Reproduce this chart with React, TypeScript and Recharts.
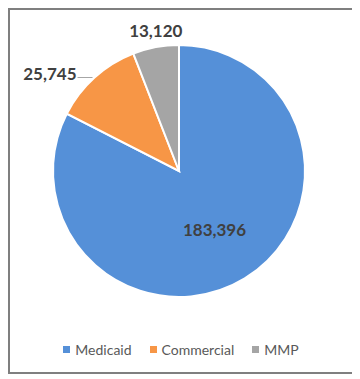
import { PieChart, Pie, Cell, Legend } from 'recharts';

const categories = ['Medicaid', 'Commercial', 'MMP'];
const values = [183396, 25745, 13120];
const colors = ['#5590D8', '#F79646', '#A5A5A5'];

const data = categories.map((name, i) => ({ name, value: values[i] }));

const RAD = Math.PI / 180;

interface LabelProps {
  cx: number;
  cy: number;
  midAngle: number;
  outerRadius: number;
  index: number;
  value: number;
}

function SliceLabel({ cx, cy, midAngle, outerRadius, index, value }: LabelProps) {
  const text = value.toLocaleString('en-US');
  const style = { fontFamily: 'Lato', fontWeight: 700, fontSize: 17, fill: '#404040' };
  const cos = Math.cos(-midAngle * RAD);
  const sin = Math.sin(-midAngle * RAD);

  if (index === 0) {
    const r = outerRadius * 0.54;
    return (
      <text x={cx + r * cos} y={cy + r * sin} textAnchor="middle" dominantBaseline="central" style={style}>
        {text}
      </text>
    );
  }

  const ex = cx + outerRadius * cos;
  const ey = cy + outerRadius * sin;

  if (index === 1) {
    return (
      <g>
        <line x1={ex - 2} y1={ey} x2={ex - 17} y2={ey} stroke="#A6A6A6" strokeWidth={1} />
        <text x={ex - 18} y={ey - 4} textAnchor="end" dominantBaseline="central" style={style}>
          {text}
        </text>
      </g>
    );
  }

  return (
    <text x={ex} y={ey - 17} textAnchor="middle" dominantBaseline="central" style={style}>
      {text}
    </text>
  );
}

function LegendContent() {
  return (
    <div style={{ display: 'flex', justifyContent: 'center', fontFamily: 'Lato', fontSize: 14, color: '#595959' }}>
      {categories.map((name, i) => (
        <span key={name} style={{ display: 'inline-flex', alignItems: 'center', margin: '0 9px' }}>
          <span style={{ width: 7, height: 7, background: colors[i], marginRight: 5, display: 'inline-block' }} />
          {name}
        </span>
      ))}
    </div>
  );
}

export default function App() {
  return (
    <div
      style={{
        width: 346,
        height: 366,
        border: '2px solid #7F7F7F',
        boxSizing: 'border-box',
        background: '#fff',
      }}
    >
      <PieChart width={342} height={362}>
        <Pie
          data={data}
          dataKey="value"
          nameKey="name"
          cx={164}
          cy={156}
          outerRadius={126}
          startAngle={90}
          endAngle={-270}
          stroke="#fff"
          strokeWidth={2}
          labelLine={false}
          label={(p: any) => <SliceLabel {...p} />}
          isAnimationActive={false}
        >
          {data.map((d, i) => (
            <Cell key={d.name} fill={colors[i]} />
          ))}
        </Pie>
        <Legend content={<LegendContent />} wrapperStyle={{ bottom: 14 }} />
      </PieChart>
    </div>
  );
}
